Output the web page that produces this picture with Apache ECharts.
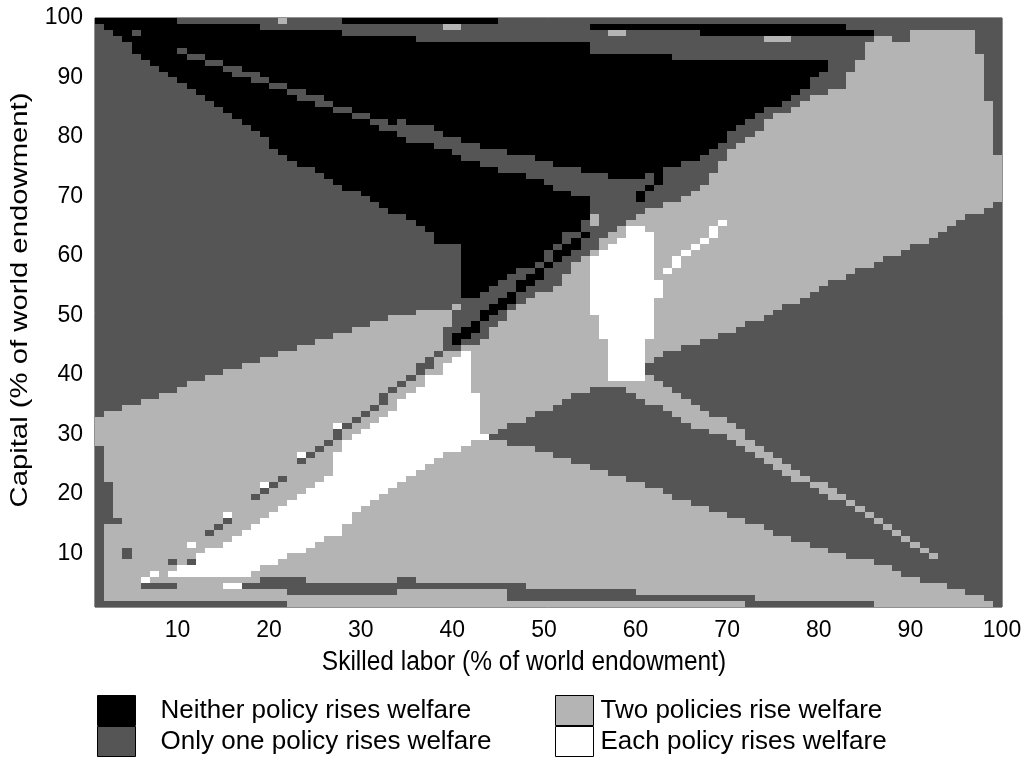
<!DOCTYPE html>
<html>
<head>
<meta charset="utf-8">
<script src="https://cdn.jsdelivr.net/npm/echarts@6/dist/echarts.min.js"></script>
<style>
  html, body { margin: 0; padding: 0; background: #fff; }
  #chart { width: 1027px; height: 760px; }
</style>
</head>
<body>
<div id="chart"></div>
<script>
// Outcome classes of the welfare map
const categories = [
  'Neither policy rises welfare',
  'Only one policy rises welfare',
  'Two policies rise welfare',
  'Each policy rises welfare'
];
const NEITHER = 0, ONE = 1, TWO = 2, EACH = 3;

const xTicks = [10, 20, 30, 40, 50, 60, 70, 80, 90, 100];
const yTicks = [10, 20, 30, 40, 50, 60, 70, 80, 90, 100];

// Endowment grid: cells [i, i+1] x [j, j+1], i, j = 1..99
const gridMin = 1, gridMax = 100;

// Region outlines, [skilled labor %, capital %]
const twoPoliciesMain = [[1,33.1],[5.0,34.8],[10.1,37.8],[11.9,39.0],[16.0,40.8],[19.9,42.9],[23.9,45.0],[28.0,47.1],[31.9,49.1],[34.1,49.9],[37.6,50.9],[40.9,51.8],[40.9,53.4],[55.0,66.4],[61.0,67.6],[63.2,68.6],[65.4,69.8],[67.1,71.4],[70.1,77.0],[74.8,83.2],[78.1,85.4],[79.9,87.1],[83.2,88.7],[83.8,92.8],[84.9,95.0],[86.0,97.0],[88.0,97.0],[88.0,96.2],[90.5,96.2],[90.5,98.0],[96.9,98.0],[96.9,93.8],[98.0,93.8],[98.0,86.1],[99.0,86.1],[99.0,77.0],[100,77.0],[100,1],[1,1]];

const onePolicyRight = [[100,68.9],[96.9,66.9],[93.0,63.5],[89.0,60.8],[84.9,58.0],[81.7,55.8],[78.1,52.9],[74.8,50.4],[72.6,48.7],[69.0,46.6],[67.1,45.9],[66.1,45.0],[63.9,44.2],[61.0,42.0],[61.0,40.7],[58.8,37.8],[55.1,37.8],[54.0,37.0],[51.2,34.8],[48.3,32.8],[45.0,30.8],[43.9,29.4],[43.9,28.9],[47.9,28.1],[51.9,25.7],[55.1,24.7],[59.2,22.3],[63.2,20.2],[67.1,18.0],[74.8,13.8],[81.0,10.6],[87.0,7.9],[92.0,5.0],[94.8,4.3],[96.9,2.8],[99.0,2.0],[99.0,1.0],[100,1.0]];

const twoPoliciesStripe = [[61.0,40.7],[63.2,38.1],[65.7,35.8],[67.1,34.1],[69.0,33.1],[71.8,30.2],[74.5,27.4],[78.1,23.5],[81.7,20.6],[93.3,9.0],[93.3,8.0],[82.2,18.9],[78.1,21.8],[75.1,24.7],[72.6,26.9],[70.1,29.7],[67.1,30.8],[66.1,31.9],[63.2,34.1],[59.9,36.6],[58.8,37.8]];

const neitherMain = [[1,100],[86,100],[86,97],[81.7,92.8],[79.9,90.4],[78.8,88.7],[77.0,86.9],[75.9,85.4],[72.9,83.7],[71.8,82.0],[70.1,81.0],[69.0,77.7],[67.1,77.0],[66.1,76.0],[62.1,74.0],[59.5,72.6],[55.0,69.8],[55.0,66.4],[54.0,64.7],[52.9,64.2],[51.2,61.9],[50.1,59.7],[48.6,58.5],[46.1,56.3],[43.1,53.4],[40.9,53.4],[40.9,61.9],[38.8,61.9],[37.0,64.2],[35.2,65.9],[34.1,66.9],[22.8,76.0],[11.0,88.6],[1,99.3]];

const onePolicyThinLine = [[10.0,95.3],[33.8,81.9],[33.8,80.7],[10.0,94.1]];

const onePolicyBand = [[33.5,82.4],[34.1,82.9],[37.7,81.5],[42.0,79.0],[45.0,77.8],[50.1,76.0],[55.0,74.0],[59.5,72.6],[55.0,69.8],[52.9,70.3],[49.0,73.1],[43.1,75.1],[39.9,77.7],[35.9,79.3],[34.1,79.8],[33.5,81.2]];

const onePolicyDiagonal = [[40.9,53.4],[43.1,53.4],[46.1,56.3],[48.6,58.5],[50.1,59.7],[51.2,61.9],[52.9,64.2],[54.0,64.7],[55.0,66.4],[55.0,69.8],[59.5,72.6],[62.1,74.0],[66.1,76.0],[67.1,77.0],[67.1,71.4],[65.4,69.8],[63.2,68.6],[61.0,67.6],[59.5,66.4],[57.3,64.2],[55.9,61.9],[55.0,60.8],[52.9,58.0],[51.5,55.1],[49.3,53.4],[47.1,51.3],[45.0,48.7],[43.1,45.9],[42.0,44.9],[40.0,44.2],[39.0,43.2],[39.0,47.1],[40.9,51.5]];

const neitherDiagonalA = [[39.8,46.1],[55.0,64.9],[55.0,63.3],[40.6,44.9]];
const neitherDiagonalB = [[59.8,69.8],[62.6,73.8],[62.6,72.4],[60.4,69.2]];

const eachPolicyRight = [[58.8,64.6],[61.0,64.6],[62.0,62.7],[62.0,56.5],[63.0,56.5],[63.0,53.1],[62.0,53.1],[62.0,45.9],[61.0,45.9],[61.0,39.2],[57.0,39.2],[57.0,45.9],[55.9,45.9],[55.9,50.4],[55.0,50.4],[55.0,59.8],[57.0,62.0],[58.8,63.5]];

const eachPolicyLeft = [[9.0,7.0],[13.0,10.1],[17.0,13.4],[19.9,16.0],[22.8,19.0],[26.1,22.2],[27.0,24.9],[28.1,28.6],[30.1,31.1],[34.1,35.0],[37.0,39.2],[39.0,40.8],[40.9,44.0],[41.9,44.0],[41.9,37.0],[43.0,37.0],[43.0,29.7],[43.9,29.4],[43.9,28.9],[42.0,28.6],[40.9,27.4],[38.1,25.7],[35.9,23.9],[34.1,21.8],[31.9,19.8],[29.1,16.8],[28.0,13.9],[23.9,10.6],[19.9,7.9],[17.9,5.9],[9.0,5.9]];

// Rectangular blocks [x0, x1, y0, y1]
const onePolicyTopRects = [[10,28,99,100],[19,29,98,99],[28,34,97,99],[34,36,97,99],[36,45,96,99],[45,55,96,100],[55,100,99,100],[55,67,94,98],[64,67,93,94],[67,85,93,97],[83,86,98,99],[5,6,97,98],[10,11,94,95]];
const neitherTopRects = [[79,86,97,98]];
const twoPoliciesSpots = [[21,22,99,100],[39,41,98,99],[57,59,97,98],[74,77,96,97],[55,56,65,67]];
const onePolicyEdgeRects = [[1,2,1,28],[2,3,16,22],[2,4,15,16],[4,5,9,11],[1,22,1,2],[6,10,4,5],[19,24,5,6],[17,34,4,5],[22,34,3,4],[34,36,5,6],[34,48,4,5],[46,60,2,4],[60,67,2,3],[67,73,2,3],[72,86,1,2]];
const eachPolicySpots = [[15,17,4,5]];

// Single cells [i, j]
const onePolicyDots = [[9,8],[11,8],[13,13],[14,14],[15,15],[18,19],[19,20],[20,21],[21,22],[23,25],[24,26],[25,27],[26,28],[27,29],[27,30],[28,31],[29,32],[30,33],[31,34],[32,35],[32,36],[33,37],[34,38],[35,39],[36,40],[36,41],[37,41],[37,42],[38,43],[39,44],[39,45],[39,46]];
const eachPolicyDots = [[6,5],[7,6],[11,11],[15,16],[19,21],[23,26],[27,31],[63,57],[64,58],[64,59],[65,60],[66,61],[67,62],[68,63],[68,64],[69,65]];

const colors = ['#000000', '#555555', '#b4b4b4', '#ffffff'];

// Paint order: later entries cover earlier ones
const cellRect = c => [c[0], c[0] + 1, c[1], c[1] + 1];
const layers = [].concat(
  [[TWO, { poly: twoPoliciesMain }]],
  [[ONE, { poly: onePolicyRight }]],
  [[TWO, { poly: twoPoliciesStripe }]],
  [[NEITHER, { poly: neitherMain }]],
  onePolicyTopRects.map(r => [ONE, { rect: r }]),
  [[ONE, { poly: onePolicyThinLine }]],
  [[ONE, { poly: onePolicyBand }]],
  [[ONE, { poly: onePolicyDiagonal }]],
  [[NEITHER, { poly: neitherDiagonalA }]],
  [[NEITHER, { poly: neitherDiagonalB }]],
  neitherTopRects.map(r => [NEITHER, { rect: r }]),
  [[EACH, { poly: eachPolicyRight }]],
  [[EACH, { poly: eachPolicyLeft }]],
  twoPoliciesSpots.map(r => [TWO, { rect: r }]),
  onePolicyEdgeRects.map(r => [ONE, { rect: r }]),
  eachPolicySpots.map(r => [EACH, { rect: r }]),
  onePolicyDots.map(c => [ONE, { rect: cellRect(c) }]),
  eachPolicyDots.map(c => [EACH, { rect: cellRect(c) }])
);

function insidePoly(poly, x, y) {
  let c = false;
  for (let i = 0, j = poly.length - 1; i < poly.length; j = i++) {
    const xi = poly[i][0], yi = poly[i][1], xj = poly[j][0], yj = poly[j][1];
    if ((yi > y) !== (yj > y) && x < (xj - xi) * (y - yi) / (yj - yi) + xi) c = !c;
  }
  return c;
}
function insideShape(s, x, y) {
  if (s.poly) return insidePoly(s.poly, x, y);
  const r = s.rect;
  return x > r[0] && x < r[1] && y > r[2] && y < r[3];
}

// Classify each cell at its centre, then merge row runs per class
const runs = [[], [], [], []];
for (let j = gridMin; j < gridMax; j++) {
  let runStart = gridMin, runCode = -1;
  for (let i = gridMin; i <= gridMax; i++) {
    let code = -1;
    if (i < gridMax) {
      code = ONE;
      for (const [v, s] of layers) if (insideShape(s, i + 0.5, j + 0.5)) code = v;
    }
    if (code !== runCode) {
      if (runCode >= 0) runs[runCode].push([runStart, i, j]);
      runStart = i; runCode = code;
    }
  }
}

const font = '"Liberation Sans", Arial, sans-serif';

function renderCell(params, api) {
  const a = api.coord([api.value(0), api.value(2) + 1]);
  const b = api.coord([api.value(1), api.value(2)]);
  const x = Math.round(a[0]), y = Math.round(a[1]);
  return {
    type: 'rect',
    shape: { x: x, y: y, width: Math.round(b[0]) - x, height: Math.round(b[1]) - y },
    style: { fill: api.visual('color') }
  };
}

const legendBase = {
  orient: 'vertical', top: 695, padding: 0,
  itemWidth: 38, itemHeight: 30, itemGap: 0, icon: 'rect', selectedMode: false,
  itemStyle: { borderColor: '#000', borderWidth: 1 }
};

const chart = echarts.init(document.getElementById('chart'), null, { renderer: 'canvas' });
chart.setOption({
  backgroundColor: '#ffffff',
  animation: false,
  grid: { left: 95, right: 25, top: 18, bottom: 153, show: true, borderColor: '#222', borderWidth: 1, backgroundColor: 'transparent' },
  xAxis: {
    type: 'value', min: gridMin, max: gridMax,
    axisLine: { show: false }, axisTick: { show: false }, splitLine: { show: false },
    axisLabel: { customValues: xTicks, color: '#000', fontSize: 23, fontFamily: font, margin: 12 }
  },
  yAxis: {
    type: 'value', min: gridMin, max: gridMax,
    axisLine: { show: false }, axisTick: { show: false }, splitLine: { show: false },
    axisLabel: { customValues: yTicks, color: '#000', fontSize: 23, fontFamily: font, margin: 12 }
  },
  legend: [
    Object.assign({}, legendBase, {
      data: [categories[0], categories[1]], left: 97,
      textStyle: { fontSize: 26, fontFamily: font, color: '#000', padding: [0, 0, 0, 20] }
    }),
    Object.assign({}, legendBase, {
      data: [categories[2], categories[3]], left: 555,
      textStyle: { fontSize: 26, fontFamily: font, color: '#000', padding: [0, 0, 0, 2] }
    })
  ],
  graphic: [
    { type: 'text', x: 524, y: 663, scaleY: 1.1,
      style: { text: 'Skilled labor (% of world endowment)', font: '24.5px ' + font, fill: '#000', textAlign: 'center', textVerticalAlign: 'middle' } },
    { type: 'text', x: 20, y: 300, rotation: Math.PI / 2, scaleX: 1.22,
      style: { text: 'Capital (% of world endowment)', font: '24px ' + font, fill: '#000', textAlign: 'center', textVerticalAlign: 'middle' } }
  ],
  series: categories.map((name, k) => ({
    name: name,
    type: 'custom',
    renderItem: renderCell,
    itemStyle: { color: colors[k] },
    encode: { x: [0, 1], y: 2 },
    data: runs[k],
    clip: true,
    silent: true
  }))
});
</script>
</body>
</html>
